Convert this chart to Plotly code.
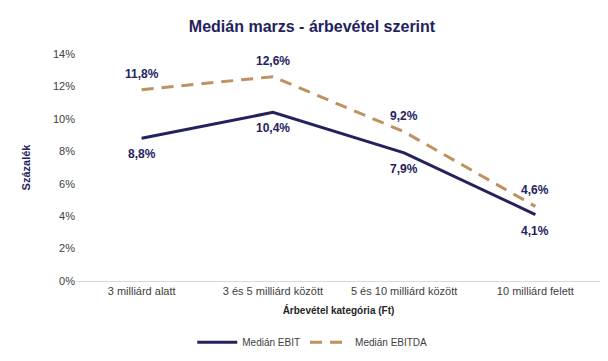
import plotly.graph_objects as go

categories = ["3 milliárd alatt", "3 és 5 milliárd között", "5 és 10 milliárd között", "10 milliárd felett"]
ebit = [8.8, 10.4, 7.9, 4.1]
ebitda = [11.8, 12.6, 9.2, 4.6]
y_ticks = [0, 2, 4, 6, 8, 10, 12, 14]
y_tick_labels = [f"{t}%" for t in y_ticks]

NAVY = "#24225E"
TAN = "#BF9060"
FONT = "Liberation Sans, Arial, sans-serif"

fig = go.Figure()
fig.add_trace(go.Scatter(x=categories, y=ebit, mode="lines", name="Medián EBIT",
                         line=dict(color=NAVY, width=3)))
fig.add_trace(go.Scatter(x=categories, y=ebitda, mode="lines", name="Medián EBITDA",
                         line=dict(color=TAN, width=3, dash="12px,8px")))

annotations = []
for c, v in zip(categories, ebit):
    annotations.append(dict(x=c, y=v, text=f"{v:.1f}%".replace(".", ","), showarrow=False,
                            yshift=-16, font=dict(family=FONT, size=12, color=NAVY, weight="bold")))
for c, v in zip(categories, ebitda):
    annotations.append(dict(x=c, y=v, text=f"{v:.1f}%".replace(".", ","), showarrow=False,
                            yshift=16, font=dict(family=FONT, size=12, color=NAVY, weight="bold")))

fig.update_layout(
    width=608, height=361,
    margin=dict(l=68, r=15, t=46, b=82),
    paper_bgcolor="white", plot_bgcolor="white",
    font=dict(family=FONT, color="#404040", size=11),
    title=dict(text="Medián marzs - árbevétel szerint", x=0.5, xref="container", xanchor="center",
               y=0.95, yref="container", yanchor="middle",
               font=dict(family=FONT, size=16, color=NAVY, weight="bold")),
    xaxis=dict(showgrid=False, showline=True, linecolor="#D9D9D9", linewidth=1,
               range=[-0.5, 3.5], ticks="", tickfont=dict(size=11, color="#404040"),
               title=dict(text="Árbevétel kategória (Ft)", standoff=10,
                          font=dict(family=FONT, size=10, color="#262626", weight="bold"))),
    yaxis=dict(range=[0, 14], tickmode="array", tickvals=y_ticks, ticktext=y_tick_labels,
               showgrid=False, zeroline=False, showline=False, ticks="",
               tickfont=dict(size=11, color="#404040"),
               title=dict(text="Százalék", standoff=20,
                          font=dict(family=FONT, size=11, color=NAVY, weight="bold"))),
    legend=dict(orientation="h", x=0.45, xanchor="center", y=-0.27, yanchor="middle",
                font=dict(family=FONT, size=10, color="#404040"), itemwidth=40),
    annotations=annotations,
    showlegend=True,
)

fig.write_html("out.html")
